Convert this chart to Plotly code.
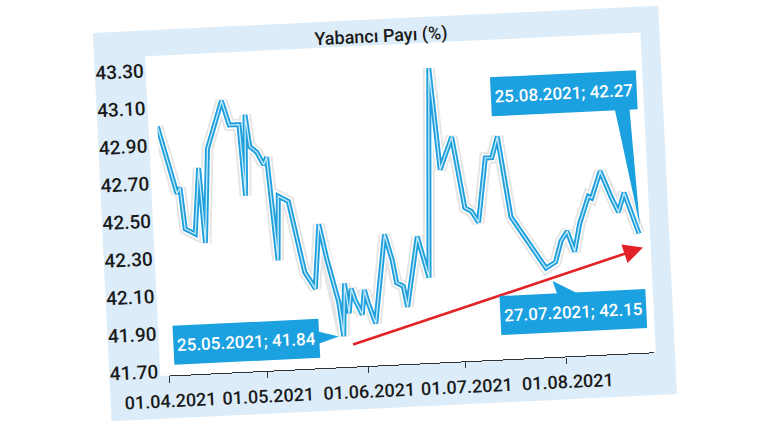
import plotly.graph_objects as go
import pandas as pd

# ---- data ----
dates = ["2021-04-01", "2021-04-06", "2021-04-07", "2021-04-08", "2021-04-11", "2021-04-13",
         "2021-04-14", "2021-04-16", "2021-04-21", "2021-04-23", "2021-04-26", "2021-04-27",
         "2021-04-28", "2021-04-29", "2021-05-01", "2021-05-03", "2021-05-04", "2021-05-06",
         "2021-05-07", "2021-05-10", "2021-05-14", "2021-05-17", "2021-05-19", "2021-05-21",
         "2021-05-24", "2021-05-25", "2021-05-26", "2021-05-27", "2021-05-28", "2021-05-29",
         "2021-05-31", "2021-06-01", "2021-06-02", "2021-06-04", "2021-06-08", "2021-06-10",
         "2021-06-11", "2021-06-13", "2021-06-14", "2021-06-18", "2021-06-21", "2021-06-24",
         "2021-06-26", "2021-06-30", "2021-07-03", "2021-07-05", "2021-07-07", "2021-07-10",
         "2021-07-12", "2021-07-14", "2021-07-17", "2021-07-27", "2021-07-30", "2021-08-01",
         "2021-08-03", "2021-08-05", "2021-08-07", "2021-08-10", "2021-08-11", "2021-08-14",
         "2021-08-17", "2021-08-19", "2021-08-21", "2021-08-25"]
values = [43.00, 42.64, 42.67, 42.45, 42.42, 42.77,
          42.37, 42.87, 43.12, 42.99, 42.99, 42.61,
          43.04, 42.87, 42.84, 42.77, 42.81, 42.26,
          42.60, 42.57, 42.19, 42.10, 42.44, 42.25,
          42.02, 41.84, 42.12, 41.96, 42.09, 42.03,
          41.95, 42.08, 42.01, 41.90, 42.37, 42.23,
          42.11, 42.09, 41.98, 42.35, 42.13, 43.24,
          42.70, 42.87, 42.49, 42.47, 42.41, 42.75,
          42.75, 42.86, 42.43, 42.15, 42.18, 42.29,
          42.34, 42.23, 42.38, 42.52, 42.51, 42.65,
          42.51, 42.43, 42.53, 42.31]

title_text = "Yabancı Payı (%)"
ytick_vals = [41.70, 41.90, 42.10, 42.30, 42.50, 42.70, 42.90, 43.10, 43.30]
ytick_text = ["41.70", "41.90", "42.10", "42.30", "42.50", "42.70", "42.90", "43.10", "43.30"]
xtick_dates = ["2021-04-01", "2021-05-01", "2021-06-01", "2021-07-01", "2021-08-01"]
xtick_text = ["01.04.2021", "01.05.2021", "01.06.2021", "01.07.2021", "01.08.2021"]

callout_texts = ["25.05.2021; 41.84", "25.08.2021; 42.27", "27.07.2021; 42.15"]
callout_point_dates = ["2021-05-25", "2021-08-25", "2021-07-27"]

# ---- layout constants ----
W, H = 770, 432
ML, MR, MT, MB = 162, 123, 45, 67
PW, PH = W - ML - MR, H - MT - MB
x_range = ["2021-04-01", "2021-08-27 19:00"]
y_range = [41.676, 43.376]

BLUE = "#1ba0e0"
CARD = "#dcecf8"
RED = "#e32227"
TXT = "#1a1a1a"
FONT = "Roboto, Liberation Sans, sans-serif"

# callout box placement (date, value)
box_pos = [("2021-04-25 05:00", 41.836), ("2021-08-03 21:00", 43.074), ("2021-08-03 17:00", 41.908)]
BOX_W, BOX_H = 143, 36

s_dates = pd.to_datetime(pd.Series(dates))
s_vals = pd.Series(values)
lookup = dict(zip(dates, values))

px_day = PW / ((pd.Timestamp(x_range[1]) - pd.Timestamp(x_range[0])).total_seconds() / 86400)
px_unit = PH / (y_range[1] - y_range[0])
half_w_days = pd.Timedelta(days=BOX_W / 2 / px_day)
half_h = BOX_H / 2 / px_unit

fig = go.Figure()

# line: shadow, halo, body, highlight
fig.add_trace(go.Scatter(x=s_dates, y=s_vals, mode="lines", hoverinfo="skip",
                         line=dict(color="rgba(80,80,80,0.14)", width=12)))
fig.add_trace(go.Scatter(x=s_dates, y=s_vals, mode="lines", hoverinfo="skip",
                         line=dict(color="white", width=8)))
fig.add_trace(go.Scatter(x=s_dates, y=s_vals, mode="lines",
                         line=dict(color="#1f9fdc", width=5)))
fig.add_trace(go.Scatter(x=s_dates, y=s_vals, mode="lines", hoverinfo="skip",
                         line=dict(color="#c6ebfb", width=1.3)))

# callout pointers (wedges)
def wedge(xs, ys):
    fig.add_trace(go.Scatter(x=xs, y=ys, mode="lines", fill="toself", fillcolor=BLUE,
                             line=dict(width=0, color=BLUE), hoverinfo="skip"))

# 1: from right side of box 1 to the May minimum
b = pd.Timestamp(box_pos[0][0]); by = box_pos[0][1]
tip_d = pd.Timestamp(callout_point_dates[0]) - pd.Timedelta(days=1.5)
tip_v = lookup[callout_point_dates[0]]
wedge([b + half_w_days - pd.Timedelta(days=1), tip_d, b + half_w_days - pd.Timedelta(days=1)],
      [by + 0.04, tip_v, by - 0.035])
# 2: from bottom of box 2 down to the last point
b = pd.Timestamp(box_pos[1][0]); by = box_pos[1][1]
tip_d = pd.Timestamp(callout_point_dates[1]) + pd.Timedelta(days=0.4)
tip_v = lookup[callout_point_dates[1]] + 0.04
wedge([b + pd.Timedelta(days=15.4), tip_d, b + pd.Timedelta(days=20.0)],
      [by - half_h + 0.01, tip_v, by - half_h + 0.01])
# 3: from top of box 3 up to the July minimum
b = pd.Timestamp(box_pos[2][0]); by = box_pos[2][1]
tip_d = pd.Timestamp(callout_point_dates[2]) + pd.Timedelta(days=1.8)
tip_v = lookup[callout_point_dates[2]] - 0.07
wedge([b - pd.Timedelta(days=4.4), tip_d, b + pd.Timedelta(days=3.0)],
      [by + half_h - 0.01, tip_v, by + half_h - 0.01])

shapes = [
    dict(type="rect", xref="paper", yref="paper", x0=-0.1237, x1=1.0433, y0=-0.134, y1=1.081,
         fillcolor=CARD, line=dict(width=0), layer="below"),
    dict(type="rect", xref="paper", yref="paper", x0=-0.0186, x1=1.004, y0=0, y1=1,
         fillcolor="white", line=dict(width=0), layer="below"),
]

annotations = [
    dict(x=0.4687, y=1.028, xref="paper", yref="paper", text=title_text, showarrow=False,
         font=dict(family=FONT, size=18, color=TXT, weight=500), xanchor="center", yanchor="middle"),
    # trend arrow
    dict(x="2021-08-26", y=42.234, ax="2021-05-27 07:00", ay=41.791, xref="x", yref="y",
         axref="x", ayref="y", text="", showarrow=True, arrowhead=2, arrowsize=1.5,
         arrowwidth=2.6, arrowcolor=RED),
]
for (bx, byv), t in zip(box_pos, callout_texts):
    annotations.append(dict(x=bx, y=byv, xref="x", yref="y", text=t, showarrow=False,
                            bgcolor=BLUE, width=BOX_W, height=BOX_H,
                            font=dict(family=FONT, size=17, color="white", weight=500),
                            xanchor="center", yanchor="middle"))

fig.update_layout(
    width=W, height=H, margin=dict(l=ML, r=MR, t=MT, b=MB),
    paper_bgcolor="white", plot_bgcolor="rgba(0,0,0,0)",
    showlegend=False, shapes=shapes, annotations=annotations,
    xaxis=dict(type="date", range=x_range, tickvals=xtick_dates, ticktext=xtick_text,
               tickangle=0, showgrid=False, zeroline=False, showline=True, linecolor="#333",
               linewidth=1.2, ticks="outside", ticklen=6, tickcolor="#333", ticklabelstandoff=3,
               tickfont=dict(family=FONT, size=18, color=TXT, weight=500), fixedrange=True),
    yaxis=dict(range=y_range, tickvals=ytick_vals, ticktext=ytick_text, showgrid=False,
               zeroline=False, showline=False, ticks="", ticklabelstandoff=10,
               tickfont=dict(family=FONT, size=19, color=TXT, weight=500), fixedrange=True),
)

post = ("var d=document.getElementById('{plot_id}');"
        "d.style.transformOrigin='385px 216px';"
        "d.style.transform='rotate(-2.75deg)';")
fig.write_html("out.html", post_script=post, config={"displayModeBar": False})
